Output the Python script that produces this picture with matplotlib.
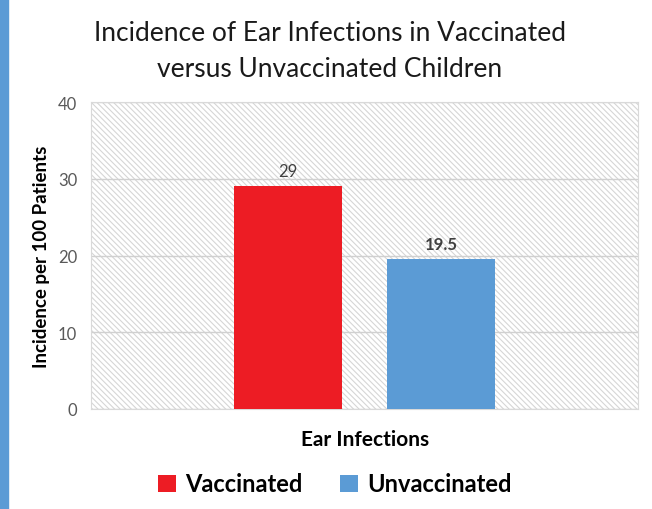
import matplotlib.pyplot as plt
from matplotlib.patches import Rectangle

plt.rcParams['font.family'] = ['Lato', 'DejaVu Sans']
plt.rcParams['hatch.color'] = '#d6d6d6'
plt.rcParams['hatch.linewidth'] = 0.8

# data
category = 'Ear Infections'
series = ['Vaccinated', 'Unvaccinated']
values = [29, 19.5]
labels = ['29', '19.5']
colors = ['#ed1c24', '#5b9bd5']
yticks = [0, 10, 20, 30, 40]

fig = plt.figure(figsize=(6.52, 5.1), dpi=100)
fig.patches.append(Rectangle((0, 0), 8 / 652, 1, transform=fig.transFigure,
                             color='#5b9bd5', zorder=0))

ax = fig.add_axes([91 / 652, 100 / 510, 547 / 652, 307 / 510])
ax.add_patch(Rectangle((0, 0), 1, 1, transform=ax.transAxes, facecolor='white',
                       edgecolor='#d6d6d6', hatch='\\\\\\\\\\\\', lw=0, zorder=0))

offsets = [-0.14, 0.14]
w = 0.197
for i in range(len(series)):
    ax.bar(offsets[i], values[i], width=w, color=colors[i], zorder=3, label=series[i])
    ax.text(offsets[i], values[i] + 1.0, labels[i], ha='center', va='bottom',
            fontsize=12, color='#404040', fontweight='bold' if i == 1 else 'normal',
            zorder=4)

ax.set_xlim(-0.5, 0.5)
ax.set_ylim(0, 40)
ax.set_yticks(yticks)
ax.set_xticks([])
ax.yaxis.grid(True, color='#d0d0d0', lw=1)
ax.set_axisbelow(True)
for s in ax.spines.values():
    s.set_color('#d9d9d9')
ax.tick_params(axis='y', length=0, labelsize=12, labelcolor='#595959', pad=10)
ax.set_ylabel('Incidence per 100 Patients', fontsize=13.5, fontweight='bold', labelpad=6)

fig.text(0.506, 0.935, 'Incidence of Ear Infections in Vaccinated',
         ha='center', va='center', fontsize=19, color='#1a1a1a')
fig.text(0.506, 0.864, 'versus Unvaccinated Children',
         ha='center', va='center', fontsize=19, color='#1a1a1a')
fig.text(365 / 652, 1 - 440 / 510, category, ha='center', va='center',
         fontsize=15, fontweight='bold')

leg = fig.legend(loc='center', bbox_to_anchor=(335 / 652, 1 - 485 / 510), ncol=2,
                 frameon=False, prop={'size': 17, 'weight': 'bold'},
                 handlelength=0.75, handleheight=0.75, handletextpad=0.4,
                 columnspacing=1.6)

fig.savefig('out.png', dpi=100)
